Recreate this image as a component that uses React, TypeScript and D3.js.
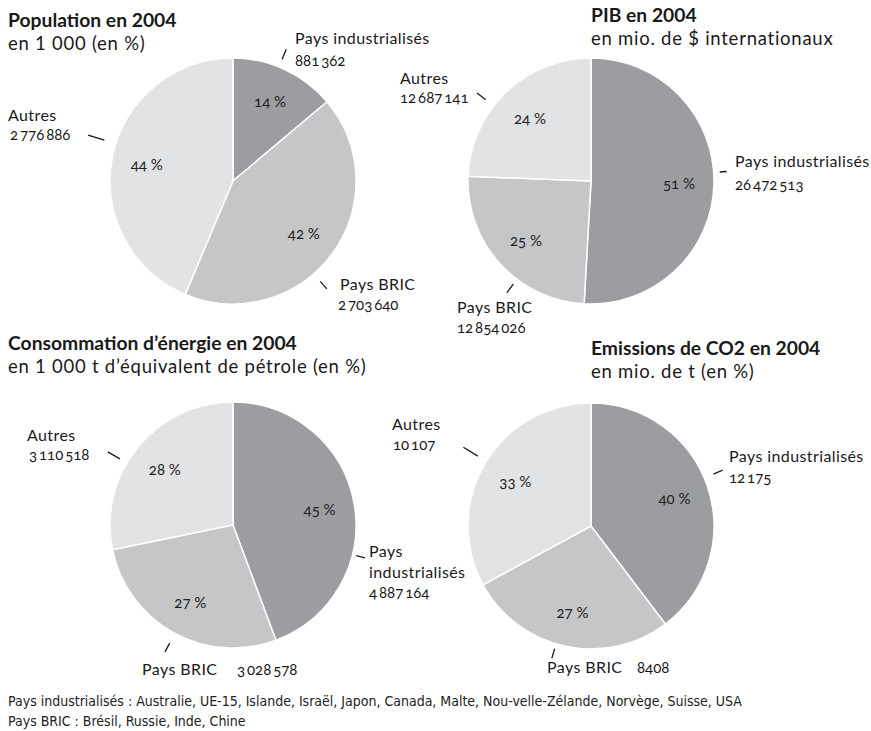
import React from "react";
import * as d3 from "d3";

const categories = ["Pays industrialisés", "Pays BRIC", "Autres"];

const populationValues = [881362, 2703640, 2776886];
const pibValues = [26472513, 12854026, 12687141];
const energyValues = [4887164, 3028578, 3110518];
const co2Values = [12175, 8408, 10107];

const populationPct = ["14 %", "42 %", "44 %"];
const pibPct = ["51 %", "25 %", "24 %"];
const energyPct = ["45 %", "27 %", "28 %"];
const co2Pct = ["40 %", "27 %", "33 %"];

const titles = [
  "Population en 2004",
  "PIB en 2004",
  "Consommation d’énergie en 2004",
  "Emissions de CO2 en 2004",
];
const subtitles = [
  "en 1 000 (en %)",
  "en mio. de $ internationaux",
  "en 1 000 t d’équivalent de pétrole (en %)",
  "en mio. de t (en %)",
];
const footnotes = [
  "Pays industrialisés : Australie, UE-15, Islande, Israël, Japon, Canada, Malte, Nou-velle-Zélande, Norvège, Suisse, USA",
  "Pays BRIC : Brésil, Russie, Inde, Chine",
];

const colors = ["#9c9da0", "#c5c6c8", "#e2e3e5"];

const fr = d3.formatLocale({
  decimal: ",",
  thousands: "\u2009",
  grouping: [3],
  currency: ["", ""],
});
const fmtGrouped = fr.format(",d");
const fmt = (v: number) => (v >= 10000 ? fmtGrouped(v) : String(v));

type LabelLayout = {
  angle: number;
  r0: number;
  r1: number;
  nameLines: string[];
  name: [number, number];
  value: [number, number];
};

type PieLayout = {
  cx: number;
  cy: number;
  tx: number;
  ty: number;
  sy: number;
  labels: LabelLayout[];
};

const layouts: PieLayout[] = [
  {
    cx: 233, cy: 181, tx: 8, ty: 27, sy: 50,
    labels: [
      { angle: 22, r0: 131, r1: 142, nameLines: [categories[0]], name: [62, -137], value: [62, -115] },
      { angle: 139, r0: 133, r1: 143, nameLines: [categories[1]], name: [107, 109], value: [105, 129] },
      { angle: 287.6, r0: 135, r1: 152, nameLines: [categories[2]], name: [-225, -60], value: [-223, -41] },
    ],
  },
  {
    cx: 591, cy: 181, tx: 591, ty: 22, sy: 45,
    labels: [
      { angle: 86, r0: 129, r1: 136, nameLines: [categories[0]], name: [144, -14], value: [144, 9] },
      { angle: 217, r0: 129, r1: 140, nameLines: [categories[1]], name: [-134, 132], value: [-134, 152] },
      { angle: 307.7, r0: 133, r1: 144, nameLines: [categories[2]], name: [-191, -97], value: [-191, -78] },
    ],
  },
  {
    cx: 233, cy: 525, tx: 8, ty: 350, sy: 373,
    labels: [
      { angle: 104, r0: 127, r1: 136, nameLines: ["Pays", "industrialisés"], name: [136, 32], value: [136, 73] },
      { angle: 208.2, r0: 134, r1: 144, nameLines: [categories[1]], name: [-91, 150], value: [4, 150] },
      { angle: 300.3, r0: 131, r1: 145, nameLines: [categories[2]], name: [-206, -84], value: [-204, -65] },
    ],
  },
  {
    cx: 591, cy: 526, tx: 591, ty: 355, sy: 378,
    labels: [
      { angle: 67, r0: 133, r1: 143, nameLines: [categories[0]], name: [138, -64], value: [138, -43] },
      { angle: 196.5, r0: 128, r1: 138, nameLines: [categories[1]], name: [-44, 147], value: [46, 147] },
      { angle: 301.7, r0: 133, r1: 150, nameLines: [categories[2]], name: [-199, -96], value: [-198, -76] },
    ],
  },
];

const datasets = [
  { values: populationValues, pct: populationPct },
  { values: pibValues, pct: pibPct },
  { values: energyValues, pct: energyPct },
  { values: co2Values, pct: co2Pct },
];

const R = 123;
const FONT = "Lato, 'Open Sans', sans-serif";

function Pie({ idx }: { idx: number }) {
  const { values, pct } = datasets[idx];
  const L = layouts[idx];
  const pie = d3.pie<number>().sort(null).value((d) => d);
  const arcs = pie(values);
  const arc = d3.arc<d3.PieArcDatum<number>>().innerRadius(0).outerRadius(R);
  const labelArc = d3.arc<d3.PieArcDatum<number>>().innerRadius(176).outerRadius(0);
  const rad = (a: number) => (a * Math.PI) / 180;
  return (
    <g>
      <text x={L.tx} y={L.ty} fontFamily={FONT} fontWeight={700} fontSize={19.3} fill="#1a1a1a">
        {titles[idx]}
      </text>
      <text x={L.tx} y={L.sy} fontFamily={FONT} fontSize={18.5} fill="#1a1a1a" letterSpacing={0.75}>
        {subtitles[idx]}
      </text>
      <g transform={`translate(${L.cx},${L.cy})`}>
        {arcs.map((a, i) => (
          <path key={i} d={arc(a) || ""} fill={colors[i]} stroke="#ffffff" strokeWidth={1.5} />
        ))}
        {arcs.map((a, i) => {
          const [x, y] = labelArc.centroid(a);
          return (
            <text key={"p" + i} x={x} y={y} textAnchor="middle" dominantBaseline="central"
              fontFamily={FONT} fontSize={15} fill="#222" style={{ fontVariantNumeric: "oldstyle-nums" }}>
              {pct[i]}
            </text>
          );
        })}
        {L.labels.map((lb, i) => {
          const s = Math.sin(rad(lb.angle));
          const c = -Math.cos(rad(lb.angle));
          return (
            <g key={"l" + i}>
              <line x1={s * lb.r0} y1={c * lb.r0} x2={s * lb.r1} y2={c * lb.r1} stroke="#1a1a1a" strokeWidth={1.3} />
              {lb.nameLines.map((t, k) => (
                <text key={k} x={lb.name[0]} y={lb.name[1] + k * 21} fontFamily={FONT} fontSize={16}
                  letterSpacing={0.4} fill="#1a1a1a">
                  {t}
                </text>
              ))}
              <text x={lb.value[0]} y={lb.value[1]} fontFamily={FONT} fontSize={15} fill="#1a1a1a"
                style={{ fontVariantNumeric: "oldstyle-nums" }}>
                {fmt(values[i])}
              </text>
            </g>
          );
        })}
      </g>
    </g>
  );
}

export default function App() {
  return (
    <svg width={871} height={731} style={{ position: "absolute", left: 0, top: 0, background: "#fff" }}>
      <rect width={871} height={731} fill="#ffffff" />
      {[0, 1, 2, 3].map((i) => (
        <Pie key={i} idx={i} />
      ))}
      {footnotes.map((t, i) => (
        <text key={i} x={8} y={706 + i * 20} fontFamily="'Liberation Sans Narrow', 'DejaVu Sans Condensed', sans-serif"
          fontSize={14} fill="#222">
          {t}
        </text>
      ))}
    </svg>
  );
}
